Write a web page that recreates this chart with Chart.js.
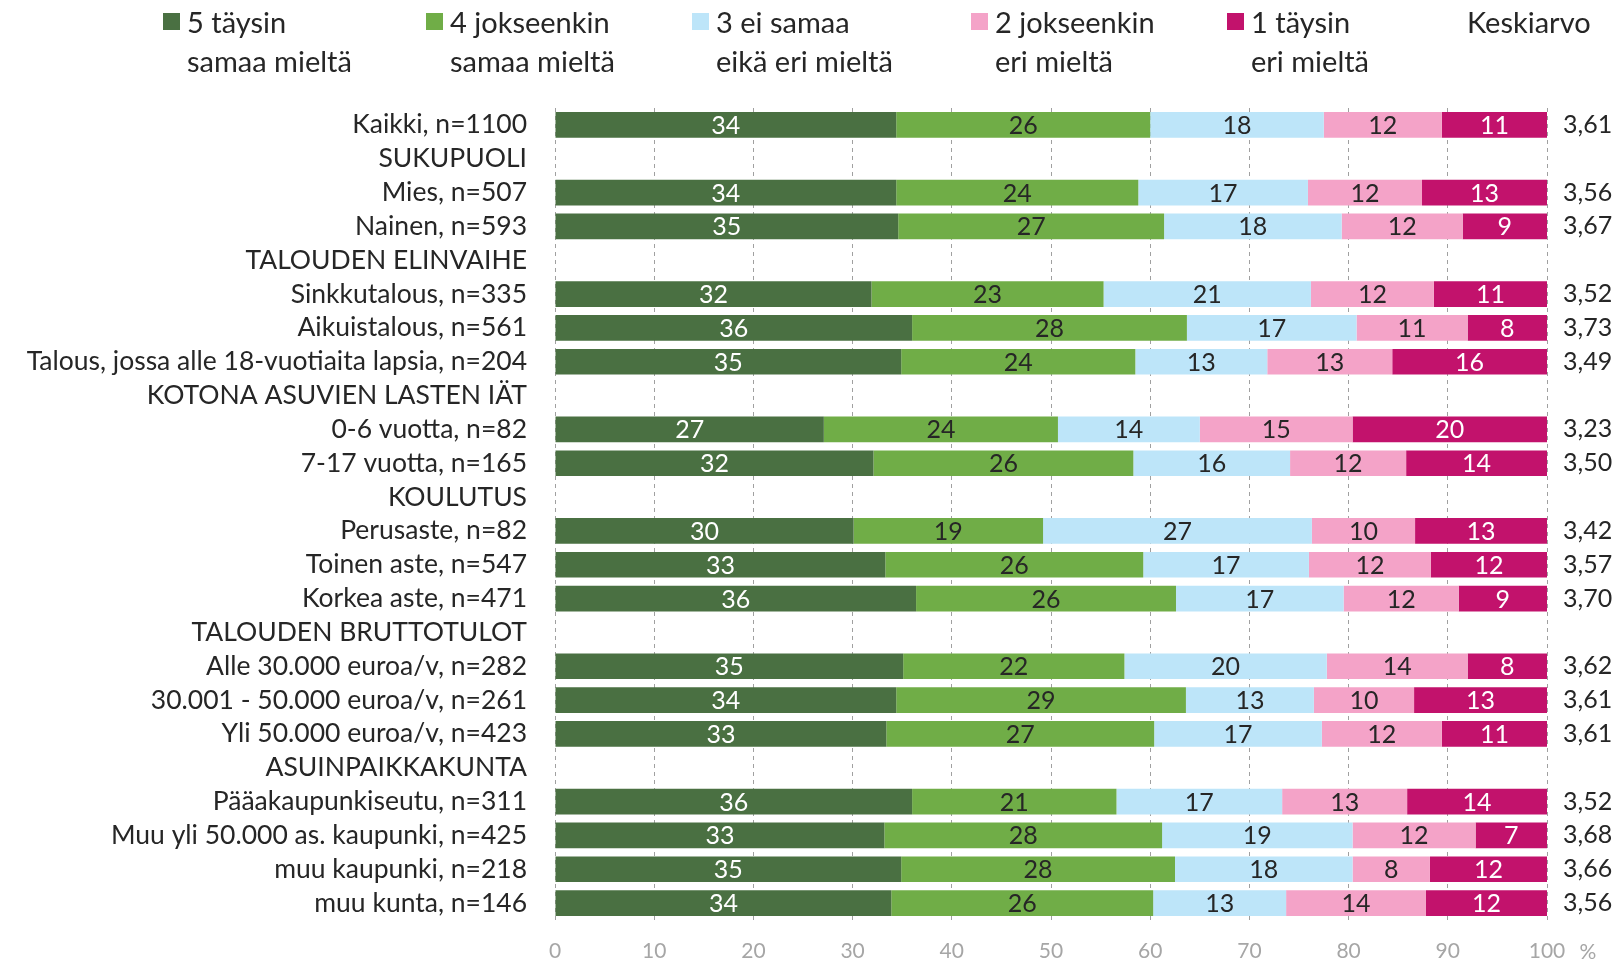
<!DOCTYPE html>
<html>
<head>
<meta charset="UTF-8">
<title>Chart</title>
<script src="https://cdn.jsdelivr.net/npm/chart.js@4.4.1/dist/chart.umd.min.js"></script>
<style>
  body { margin: 0; background: #fff; font-family: Lato, sans-serif; color: #262626; }
  #wrap { position: relative; width: 1620px; height: 966px; }
  .leg { position: absolute; top: 2px; font-size: 29px; line-height: 39px; white-space: nowrap; }
  .sq { position: absolute; width: 17px; height: 17px; top: 13px; }
</style>
</head>
<body>
<div id="wrap">
  <canvas id="canvas"></canvas>
</div>
<script>
const categories = [
  'Kaikki, n=1100', 'SUKUPUOLI', 'Mies, n=507', 'Nainen, n=593',
  'TALOUDEN ELINVAIHE', 'Sinkkutalous, n=335', 'Aikuistalous, n=561',
  'Talous, jossa alle 18-vuotiaita lapsia, n=204', 'KOTONA ASUVIEN LASTEN IÄT',
  '0-6 vuotta, n=82', '7-17 vuotta, n=165', 'KOULUTUS', 'Perusaste, n=82',
  'Toinen aste, n=547', 'Korkea aste, n=471', 'TALOUDEN BRUTTOTULOT',
  'Alle 30.000 euroa/v, n=282', '30.001 - 50.000 euroa/v, n=261',
  'Yli 50.000 euroa/v, n=423', 'ASUINPAIKKAKUNTA', 'Pääakaupunkiseutu, n=311',
  'Muu yli 50.000 as. kaupunki, n=425', 'muu kaupunki, n=218', 'muu kunta, n=146'
];
const seriesNames = [
  ['5 täysin', 'samaa mieltä'], ['4 jokseenkin', 'samaa mieltä'],
  ['3 ei samaa', 'eikä eri mieltä'], ['2 jokseenkin', 'eri mieltä'], ['1 täysin', 'eri mieltä']
];
const taysinSamaa    = [34.4, null, 34.4, 34.6, null, 31.9, 36.0, 34.9, null, 27.1, 32.1, null, 30.1, 33.3, 36.4, null, 35.1, 34.4, 33.4, null, 36.0, 33.2, 34.9, 33.9];
const jokseenSamaa   = [25.6, null, 24.4, 26.8, null, 23.4, 27.7, 23.6, null, 23.6, 26.2, null, 19.1, 26.0, 26.2, null, 22.3, 29.2, 27.0, null, 20.6, 28.0, 27.6, 26.4];
const eiSamaaEiEri   = [17.5, null, 17.1, 17.9, null, 20.9, 17.1, 13.3, null, 14.3, 15.8, null, 27.1, 16.7, 16.9, null, 20.4, 12.9, 16.9, null, 16.7, 19.2, 17.9, 13.4];
const jokseenEri     = [11.9, null, 11.5, 12.2, null, 12.4, 11.2, 12.6, null, 15.4, 11.7, null, 10.4, 12.3, 11.6, null, 14.2, 10.1, 12.1, null, 12.6, 12.4, 7.8, 14.1];
const taysinEri      = [10.6, null, 12.6, 8.5, null, 11.4, 8.0, 15.6, null, 19.6, 14.2, null, 13.3, 11.7, 8.9, null, 8.0, 13.4, 10.6, null, 14.1, 7.2, 11.8, 12.2];
const keskiarvo      = [3.61, null, 3.56, 3.67, null, 3.52, 3.73, 3.49, null, 3.23, 3.50, null, 3.42, 3.57, 3.70, null, 3.62, 3.61, 3.61, null, 3.52, 3.68, 3.66, 3.56];
const xTicks = [0, 10, 20, 30, 40, 50, 60, 70, 80, 90, 100];

const colors = ['#4a7042', '#70ad47', '#bde5f9', '#f4a3c8', '#c2126c'];
const labelColors = ['#ffffff', '#262626', '#262626', '#262626', '#ffffff'];
const FONT = 'Lato';

// legend as html
const wrap = document.getElementById('wrap');
const legX = [163, 426, 692, 971, 1227];
seriesNames.forEach(function (n, i) {
  const sq = document.createElement('div');
  sq.className = 'sq';
  sq.style.left = legX[i] + 'px';
  sq.style.background = colors[i];
  wrap.appendChild(sq);
  const t = document.createElement('div');
  t.className = 'leg';
  t.style.left = (legX[i] + 24) + 'px';
  t.innerHTML = n[0] + '<br>' + n[1];
  wrap.appendChild(t);
});
const k = document.createElement('div');
k.className = 'leg';
k.style.left = '1467px';
k.textContent = 'Keskiarvo';
wrap.appendChild(k);

const avgLabels = keskiarvo.map(function (v) { return v == null ? '' : v.toFixed(2).replace('.', ','); });

const valueLabels = {
  id: 'valueLabels',
  afterDatasetsDraw(chart) {
    const ctx = chart.ctx;
    ctx.save();
    ctx.font = '25px ' + FONT;
    ctx.textAlign = 'center';
    ctx.textBaseline = 'middle';
    chart.data.datasets.forEach(function (ds, di) {
      const meta = chart.getDatasetMeta(di);
      ctx.fillStyle = labelColors[di];
      meta.data.forEach(function (el, i) {
        const v = ds.data[i];
        if (v == null) return;
        ctx.fillText(String(Math.round(v)), (el.x + el.base) / 2, el.y + 1);
      });
    });
    // percent sign after the last x tick
    const xs = chart.scales.x;
    ctx.font = '21px ' + FONT;
    ctx.fillStyle = '#a6a6a6';
    ctx.fillText('%', xs.getPixelForValue(100) + 41, 952);
    ctx.restore();
  }
};

const datasets = [taysinSamaa, jokseenSamaa, eiSamaaEiEri, jokseenEri, taysinEri].map(function (d, i) {
  return {
    label: seriesNames[i].join(' '),
    data: d,
    backgroundColor: colors[i],
    borderWidth: 0,
    categoryPercentage: 1,
    barPercentage: 0.76
  };
});

new Chart(document.getElementById('canvas'), {
  type: 'bar',
  data: { labels: categories, datasets: datasets },
  plugins: [valueLabels],
  options: {
    indexAxis: 'y',
    responsive: true,
    maintainAspectRatio: false,
    animation: false,
    layout: { padding: { top: 108, left: 0, right: 0, bottom: 0 } },
    plugins: { legend: { display: false }, tooltip: { enabled: false } },
    scales: {
      x: {
        stacked: true,
        min: 0, max: 100,
        afterBuildTicks: function (s) { s.ticks = xTicks.map(function (v) { return { value: v }; }); },
        afterFit: function (s) { s.height = 46; },
        grid: { color: '#a0a0a0', lineWidth: 1, drawTicks: false },
        border: { display: false, dash: [4, 4] },
        ticks: { color: '#a6a6a6', font: { family: FONT, size: 21 }, padding: 19, maxRotation: 0 }
      },
      y: {
        stacked: true,
        afterFit: function (s) { s.width = 555; },
        grid: { display: false, drawTicks: false },
        border: { display: false },
        ticks: { autoSkip: false, color: '#262626', font: { family: FONT, size: 26.5 }, padding: 28 }
      },
      y2: {
        type: 'category',
        position: 'right',
        labels: avgLabels,
        offset: true,
        afterFit: function (s) { s.width = 73; },
        grid: { display: false, drawTicks: false },
        border: { display: false },
        ticks: { autoSkip: false, color: '#262626', font: { family: FONT, size: 25 }, padding: 16 }
      }
    }
  }
});
</script>
</body>
</html>
